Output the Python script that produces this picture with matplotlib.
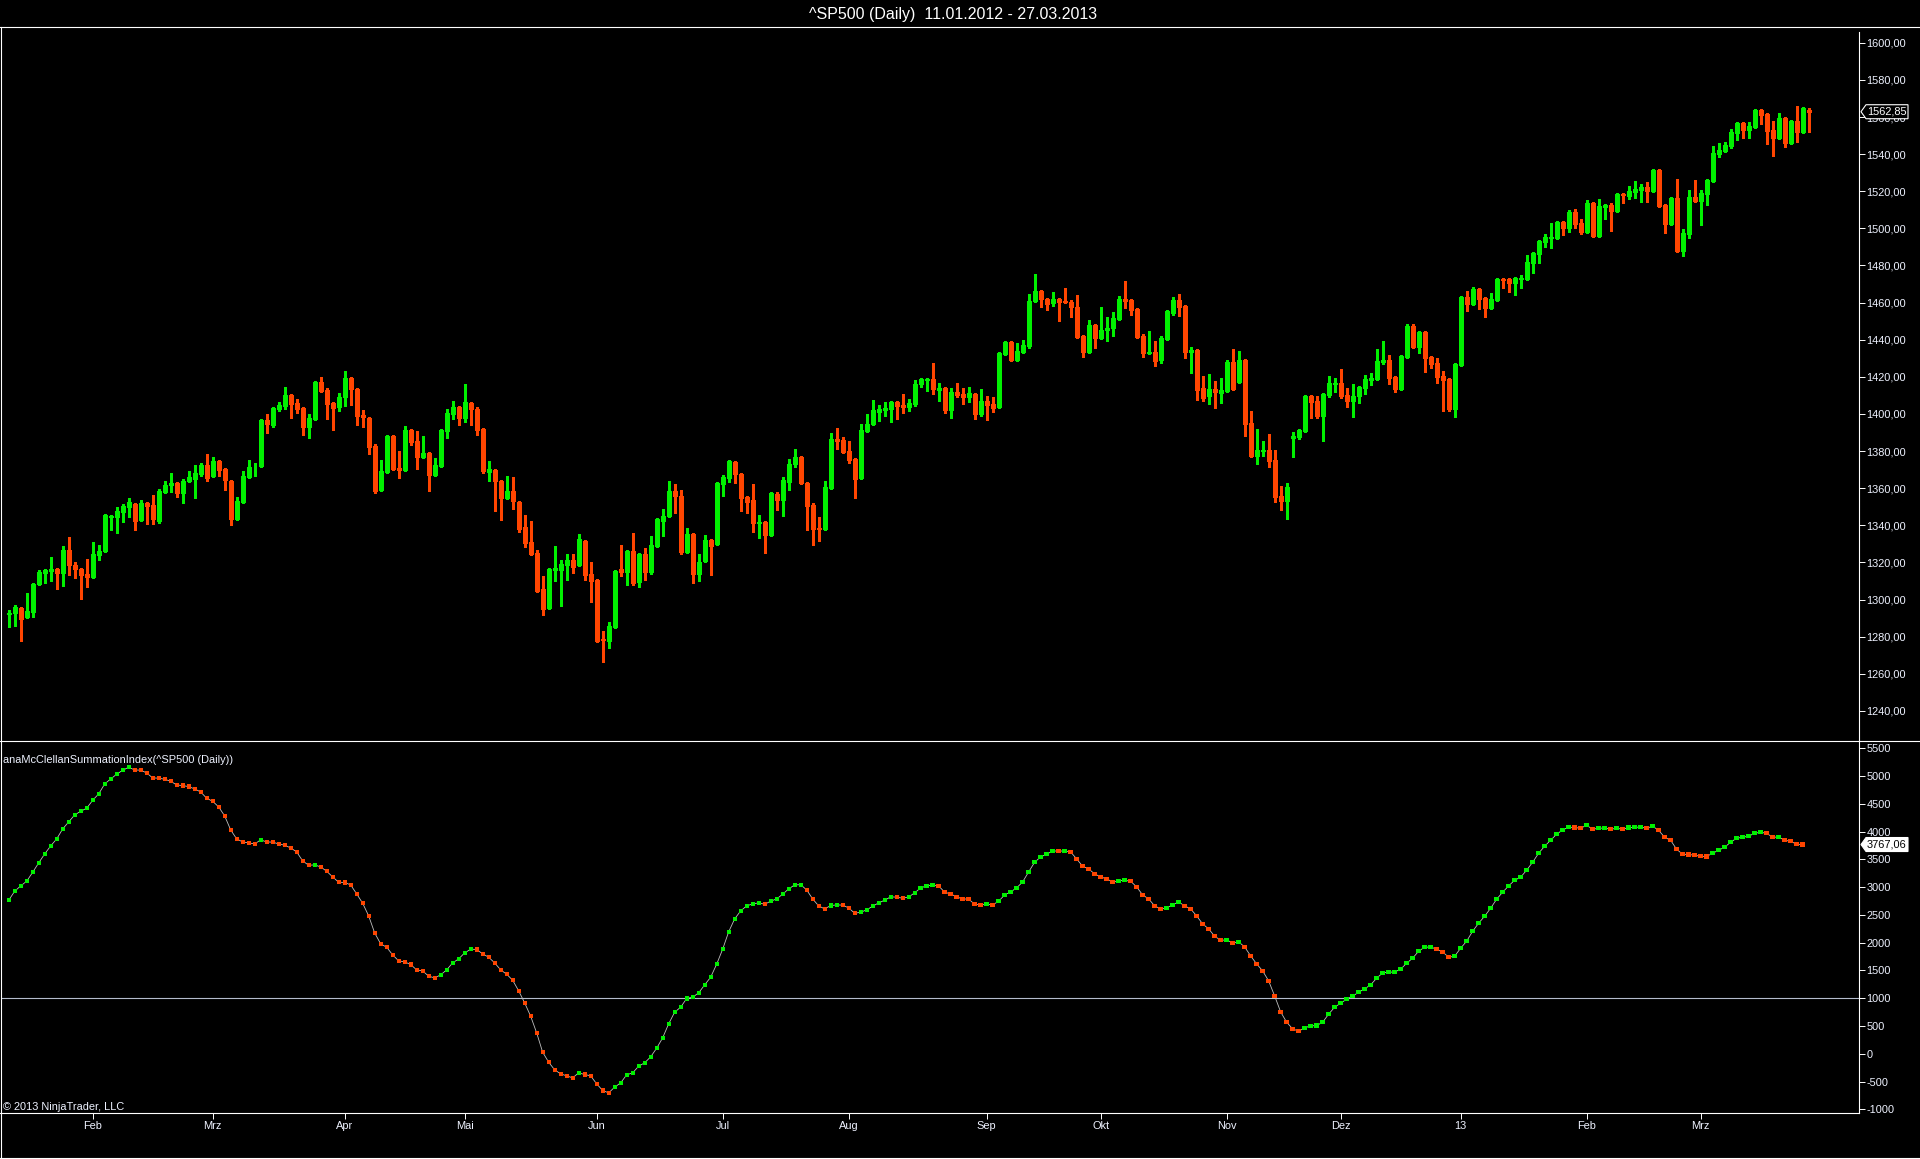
import numpy as np
import matplotlib
matplotlib.use("Agg")
from matplotlib import pyplot as plt
from matplotlib.lines import Line2D
from matplotlib.patches import Polygon
from matplotlib.transforms import IdentityTransform
from matplotlib.ticker import FuncFormatter

plt.rcParams['font.family'] = ['Liberation Sans', 'DejaVu Sans']

# daily bars 11.01.2012 - 27.03.2013
opens = [
    1292.1, 1292.6, 1295.3, 1290.4, 1293.5, 1308.2, 1314.5, 1315.6, 1316.3, 1314.5,
    1326.5, 1318.5, 1316.3, 1313.6, 1312.4, 1324.2, 1326.4, 1344.6, 1344.7, 1347.4,
    1350.1, 1351.5, 1343.1, 1351.9, 1350.8, 1342.4, 1358.0, 1361.6, 1362.8, 1357.6,
    1363.7, 1365.2, 1367.9, 1372.5, 1366.4, 1374.9, 1370.4, 1363.9, 1343.6, 1352.8,
    1366.2, 1371.3, 1372.2, 1396.8, 1394.3, 1402.9, 1404.5, 1410.2, 1405.7, 1403.1,
    1393.2, 1397.5, 1417.1, 1412.9, 1405.7, 1403.6, 1409.0, 1419.2, 1413.5, 1399.5,
    1397.7, 1382.8, 1359.2, 1368.9, 1388.0, 1370.7, 1369.8, 1391.2, 1385.5, 1377.0,
    1379.0, 1367.1, 1372.2, 1391.0, 1400.2, 1403.8, 1398.0, 1405.7, 1402.7, 1391.9,
    1368.9, 1369.7, 1363.9, 1354.9, 1358.5, 1352.6, 1339.1, 1331.0, 1325.1, 1305.7,
    1295.5, 1316.0, 1316.0, 1318.6, 1321.3, 1318.6, 1331.6, 1313.8, 1310.6, 1278.8,
    1277.7, 1285.2, 1316.5, 1314.9, 1326.2, 1309.7, 1324.6, 1314.9, 1328.9, 1342.4,
    1345.0, 1358.5, 1355.8, 1325.7, 1335.4, 1313.8, 1320.8, 1332.1, 1330.0, 1362.3,
    1365.5, 1374.1, 1367.6, 1355.1, 1353.5, 1341.4, 1341.6, 1334.9, 1356.9, 1353.8,
    1363.5, 1373.2, 1376.8, 1362.8, 1351.1, 1338.5, 1338.2, 1360.3, 1386.5, 1386.0,
    1380.0, 1375.7, 1365.7, 1391.0, 1394.6, 1401.2, 1402.3, 1402.8, 1406.4, 1404.8,
    1403.9, 1405.5, 1416.3, 1418.1, 1418.8, 1413.1, 1414.0, 1402.3, 1411.8, 1410.8,
    1409.3, 1410.8, 1400.2, 1407.0, 1405.4, 1403.9, 1432.3, 1438.8, 1429.3, 1433.4,
    1436.8, 1460.7, 1466.2, 1461.9, 1459.9, 1461.9, 1460.9, 1460.3, 1457.6, 1442.0,
    1433.6, 1447.9, 1441.1, 1445.4, 1446.5, 1451.3, 1461.9, 1461.2, 1456.4, 1442.0,
    1433.0, 1433.2, 1429.3, 1440.6, 1454.6, 1461.4, 1458.2, 1433.6, 1434.5, 1414.0,
    1409.8, 1413.4, 1411.5, 1412.5, 1428.0, 1417.4, 1429.1, 1395.1, 1377.5, 1380.2,
    1380.6, 1375.2, 1355.8, 1353.3, 1387.2, 1387.8, 1391.0, 1409.7, 1407.0, 1399.1,
    1410.4, 1416.3, 1416.7, 1410.2, 1407.1, 1409.8, 1414.2, 1418.5, 1419.0, 1428.2,
    1429.1, 1419.9, 1413.6, 1430.9, 1447.4, 1436.3, 1444.2, 1430.7, 1427.5, 1420.4,
    1418.8, 1402.8, 1426.6, 1463.0, 1459.4, 1467.3, 1462.3, 1457.3, 1461.4, 1472.9,
    1472.5, 1470.7, 1472.9, 1472.9, 1481.5, 1486.3, 1492.6, 1495.0, 1495.0, 1503.4,
    1500.2, 1508.6, 1502.9, 1498.0, 1513.6, 1496.0, 1511.7, 1512.6, 1509.3, 1518.5,
    1517.4, 1519.7, 1520.8, 1522.3, 1520.3, 1531.4, 1512.5, 1502.3, 1516.3, 1487.9,
    1497.1, 1516.9, 1514.7, 1518.7, 1525.7, 1540.2, 1541.8, 1544.5, 1551.5, 1556.7,
    1553.0, 1554.8, 1563.7, 1561.6, 1553.0, 1548.9, 1559.3, 1546.2, 1557.8, 1552.1,
    1563.8,
]
highs = [
    1294.4, 1297.1, 1295.3, 1303.4, 1308.2, 1315.9, 1315.8, 1323.0, 1316.3, 1328.9,
    1333.7, 1320.3, 1316.3, 1321.9, 1331.0, 1329.4, 1345.6, 1345.2, 1349.9, 1351.5,
    1354.7, 1351.5, 1353.7, 1351.9, 1356.4, 1359.6, 1363.9, 1368.2, 1363.4, 1365.0,
    1369.3, 1372.5, 1373.6, 1378.5, 1376.8, 1375.2, 1370.4, 1363.9, 1355.3, 1369.3,
    1375.2, 1373.6, 1396.8, 1400.0, 1403.1, 1406.5, 1414.6, 1410.2, 1407.9, 1403.1,
    1400.0, 1417.1, 1419.9, 1413.8, 1405.7, 1411.1, 1423.2, 1419.2, 1413.5, 1402.2,
    1397.7, 1383.8, 1375.2, 1388.7, 1388.0, 1380.1, 1393.5, 1391.2, 1390.8, 1388.2,
    1379.0, 1376.3, 1391.9, 1402.5, 1407.0, 1403.8, 1416.2, 1405.7, 1403.8, 1391.9,
    1374.7, 1369.7, 1364.4, 1366.6, 1366.1, 1352.6, 1345.6, 1342.4, 1326.7, 1312.7,
    1317.0, 1328.9, 1321.3, 1324.6, 1324.6, 1335.4, 1331.6, 1320.3, 1310.6, 1283.1,
    1287.9, 1315.4, 1329.4, 1326.2, 1335.9, 1324.6, 1327.8, 1334.3, 1344.0, 1348.8,
    1363.9, 1362.3, 1359.1, 1338.6, 1335.4, 1324.6, 1334.8, 1332.1, 1362.8, 1367.1,
    1375.2, 1374.1, 1367.6, 1355.1, 1362.2, 1345.6, 1341.6, 1357.9, 1357.9, 1366.0,
    1375.7, 1381.1, 1376.8, 1362.8, 1352.0, 1344.5, 1363.9, 1389.7, 1392.4, 1387.6,
    1385.4, 1375.7, 1394.6, 1400.0, 1407.5, 1404.8, 1406.4, 1406.4, 1406.4, 1410.7,
    1408.1, 1418.3, 1419.4, 1418.8, 1427.4, 1416.7, 1414.0, 1414.0, 1416.7, 1414.0,
    1414.5, 1410.8, 1413.4, 1409.7, 1409.1, 1432.8, 1438.8, 1439.3, 1438.2, 1439.8,
    1464.6, 1475.4, 1466.2, 1461.9, 1465.7, 1461.9, 1467.9, 1461.4, 1464.1, 1442.0,
    1450.6, 1447.9, 1457.6, 1452.2, 1454.9, 1463.4, 1471.6, 1461.2, 1456.4, 1443.1,
    1444.7, 1439.3, 1442.0, 1456.0, 1463.0, 1464.6, 1458.2, 1436.1, 1434.5, 1420.4,
    1421.5, 1417.8, 1419.4, 1429.1, 1435.0, 1433.9, 1429.1, 1401.8, 1392.1, 1385.6,
    1389.4, 1380.6, 1361.4, 1363.0, 1390.5, 1392.1, 1409.7, 1409.7, 1409.7, 1410.8,
    1420.4, 1419.4, 1424.2, 1414.0, 1416.1, 1414.5, 1421.0, 1422.1, 1435.0, 1439.3,
    1431.8, 1419.9, 1431.2, 1448.5, 1448.5, 1444.2, 1444.2, 1430.7, 1430.1, 1423.1,
    1418.8, 1427.4, 1463.0, 1466.2, 1468.4, 1467.3, 1462.3, 1465.1, 1472.7, 1473.2,
    1472.5, 1473.9, 1474.7, 1485.6, 1486.5, 1493.0, 1496.9, 1502.9, 1503.9, 1503.9,
    1509.9, 1510.4, 1505.0, 1515.2, 1513.6, 1515.8, 1513.1, 1513.6, 1519.0, 1519.0,
    1522.8, 1525.5, 1523.9, 1525.0, 1531.4, 1531.4, 1512.5, 1516.3, 1526.6, 1499.6,
    1520.6, 1526.0, 1520.6, 1526.0, 1544.3, 1546.0, 1546.5, 1553.5, 1557.3, 1557.3,
    1557.3, 1564.3, 1564.3, 1561.6, 1557.8, 1562.1, 1559.3, 1558.4, 1565.9, 1564.8,
    1564.8,
]
lows = [
    1285.4, 1286.0, 1277.9, 1290.4, 1290.8, 1308.2, 1309.1, 1310.2, 1305.9, 1307.3,
    1313.3, 1311.8, 1300.5, 1307.0, 1312.4, 1321.3, 1326.4, 1337.7, 1336.1, 1342.0,
    1344.7, 1337.7, 1343.1, 1340.9, 1340.9, 1341.5, 1357.6, 1358.2, 1355.5, 1352.2,
    1363.7, 1354.9, 1366.4, 1364.1, 1366.4, 1366.8, 1359.2, 1340.4, 1343.6, 1352.8,
    1366.2, 1366.8, 1372.2, 1390.0, 1393.2, 1401.8, 1402.9, 1398.0, 1400.7, 1388.9,
    1387.2, 1397.5, 1412.0, 1397.5, 1391.6, 1401.8, 1404.5, 1405.0, 1394.3, 1393.2,
    1378.6, 1357.6, 1359.2, 1368.9, 1370.0, 1365.7, 1369.8, 1383.3, 1370.4, 1377.0,
    1358.5, 1366.6, 1372.2, 1387.1, 1397.3, 1394.1, 1395.7, 1394.1, 1388.7, 1368.2,
    1363.9, 1347.7, 1342.9, 1354.9, 1348.8, 1336.4, 1328.3, 1324.6, 1304.6, 1291.7,
    1295.5, 1310.0, 1296.6, 1310.6, 1314.3, 1318.6, 1310.6, 1298.7, 1277.2, 1266.4,
    1273.9, 1285.2, 1312.7, 1307.9, 1307.9, 1306.8, 1310.6, 1313.8, 1328.9, 1334.3,
    1345.0, 1346.7, 1324.6, 1325.7, 1309.0, 1310.0, 1320.8, 1313.3, 1330.0, 1355.8,
    1363.4, 1362.8, 1347.9, 1346.8, 1336.6, 1333.3, 1325.2, 1334.9, 1348.4, 1345.2,
    1359.2, 1371.4, 1362.2, 1337.6, 1329.6, 1331.5, 1338.2, 1360.3, 1381.3, 1379.2,
    1373.8, 1354.9, 1365.7, 1391.0, 1394.6, 1396.4, 1399.1, 1395.8, 1397.5, 1400.7,
    1401.8, 1404.5, 1414.7, 1412.5, 1410.9, 1407.1, 1400.7, 1398.0, 1409.3, 1405.5,
    1406.6, 1397.5, 1399.1, 1396.9, 1401.2, 1403.9, 1431.8, 1429.3, 1429.3, 1432.8,
    1435.7, 1460.7, 1457.8, 1456.2, 1458.3, 1450.3, 1460.0, 1452.4, 1441.6, 1430.9,
    1433.6, 1435.7, 1441.1, 1439.5, 1442.2, 1451.3, 1457.3, 1453.5, 1441.6, 1430.9,
    1433.0, 1426.0, 1427.6, 1440.6, 1453.5, 1453.0, 1430.3, 1422.2, 1407.7, 1407.1,
    1405.5, 1403.4, 1406.1, 1412.5, 1413.1, 1417.4, 1388.3, 1377.5, 1373.2, 1377.5,
    1371.6, 1352.7, 1348.4, 1343.6, 1377.0, 1386.7, 1391.0, 1398.0, 1398.0, 1385.6,
    1409.3, 1411.8, 1408.8, 1403.9, 1398.5, 1406.1, 1410.9, 1415.6, 1419.0, 1427.1,
    1416.3, 1412.0, 1413.6, 1430.9, 1436.3, 1433.0, 1422.8, 1424.9, 1416.9, 1401.8,
    1401.8, 1398.5, 1426.6, 1455.6, 1459.4, 1456.7, 1452.0, 1457.3, 1461.4, 1467.8,
    1465.7, 1464.1, 1467.8, 1472.9, 1475.9, 1481.3, 1489.9, 1489.4, 1495.0, 1496.5,
    1498.2, 1500.3, 1497.1, 1498.0, 1495.5, 1496.0, 1505.0, 1498.7, 1509.3, 1513.6,
    1515.8, 1516.3, 1514.4, 1514.4, 1520.3, 1512.0, 1497.5, 1502.3, 1487.9, 1485.3,
    1495.0, 1514.7, 1502.0, 1512.7, 1525.7, 1538.6, 1541.8, 1543.5, 1547.8, 1548.9,
    1548.9, 1554.8, 1556.4, 1545.6, 1539.1, 1548.9, 1544.0, 1546.2, 1546.7, 1552.1,
    1552.1,
]
closes = [
    1293.0, 1295.8, 1289.4, 1293.7, 1308.2, 1314.9, 1315.8, 1316.3, 1314.5, 1326.7,
    1318.5, 1316.7, 1313.1, 1312.4, 1324.6, 1326.0, 1345.6, 1345.0, 1347.6, 1350.4,
    1352.4, 1342.5, 1351.9, 1350.6, 1343.6, 1358.3, 1361.6, 1362.6, 1357.6, 1363.9,
    1366.1, 1368.0, 1372.3, 1365.7, 1374.5, 1370.0, 1364.6, 1343.6, 1353.1, 1366.6,
    1371.4, 1371.6, 1396.8, 1394.4, 1403.1, 1404.7, 1410.2, 1405.6, 1402.9, 1393.2,
    1397.7, 1417.1, 1412.4, 1405.6, 1403.4, 1409.0, 1419.4, 1413.7, 1399.1, 1398.6,
    1382.4, 1358.5, 1369.1, 1388.2, 1370.4, 1370.0, 1391.4, 1385.1, 1377.0, 1378.8,
    1367.1, 1372.3, 1391.4, 1400.4, 1403.8, 1398.0, 1406.5, 1402.5, 1391.4, 1369.3,
    1370.4, 1364.1, 1354.9, 1358.5, 1353.3, 1338.0, 1330.5, 1324.6, 1304.6, 1294.9,
    1316.5, 1317.0, 1319.2, 1321.3, 1317.6, 1332.7, 1313.3, 1310.0, 1277.7, 1278.2,
    1285.8, 1315.4, 1314.9, 1326.2, 1309.1, 1324.6, 1314.9, 1329.4, 1343.4, 1345.0,
    1358.5, 1355.8, 1325.7, 1335.4, 1313.8, 1320.3, 1332.1, 1328.9, 1362.8, 1366.2,
    1374.7, 1367.7, 1354.9, 1352.7, 1341.4, 1341.8, 1334.9, 1357.4, 1353.8, 1364.4,
    1373.0, 1376.8, 1362.8, 1350.6, 1338.2, 1338.0, 1360.6, 1386.5, 1385.6, 1379.5,
    1375.4, 1365.1, 1391.3, 1394.6, 1402.1, 1402.7, 1403.2, 1406.4, 1404.4, 1403.9,
    1405.9, 1416.1, 1418.8, 1418.8, 1413.6, 1414.0, 1402.3, 1411.8, 1410.4, 1409.3,
    1411.3, 1399.8, 1407.0, 1405.0, 1403.4, 1432.8, 1438.8, 1429.3, 1433.9, 1437.2,
    1460.8, 1466.2, 1461.8, 1459.4, 1461.9, 1460.5, 1460.3, 1457.4, 1441.6, 1433.6,
    1447.9, 1441.1, 1445.2, 1446.3, 1451.5, 1461.8, 1461.0, 1456.2, 1441.6, 1433.0,
    1433.4, 1428.7, 1440.9, 1455.5, 1461.4, 1457.8, 1433.4, 1434.5, 1412.9, 1408.8,
    1413.4, 1412.0, 1412.9, 1428.0, 1413.6, 1429.1, 1394.8, 1377.5, 1380.6, 1380.7,
    1374.8, 1355.4, 1353.3, 1360.6, 1387.9, 1391.5, 1409.7, 1406.6, 1399.1, 1410.8,
    1416.7, 1416.9, 1409.8, 1407.1, 1409.7, 1414.5, 1418.8, 1419.4, 1428.5, 1429.1,
    1419.5, 1413.6, 1431.2, 1447.4, 1436.3, 1444.2, 1430.3, 1427.1, 1420.1, 1418.5,
    1402.8, 1426.9, 1463.0, 1459.4, 1467.3, 1462.1, 1456.9, 1461.7, 1472.7, 1472.3,
    1470.7, 1473.2, 1473.2, 1481.7, 1486.5, 1493.0, 1495.3, 1495.3, 1503.4, 1500.3,
    1508.8, 1502.5, 1498.0, 1513.6, 1496.0, 1512.0, 1512.6, 1509.5, 1518.5, 1517.8,
    1519.9, 1521.2, 1522.3, 1520.3, 1531.4, 1512.0, 1502.3, 1516.3, 1487.9, 1497.5,
    1516.9, 1514.7, 1519.0, 1526.0, 1540.6, 1542.2, 1544.9, 1551.9, 1556.7, 1553.0,
    1555.1, 1563.7, 1561.0, 1552.4, 1548.9, 1559.4, 1546.2, 1557.8, 1552.1, 1564.8,
    1562.85,
]

# McClellan summation index (one point less than the price bars)
summation = [
    2764, 2926, 3022, 3106, 3268, 3436, 3598, 3742, 3868, 4048,
    4174, 4300, 4366, 4420, 4564, 4678, 4858, 4948, 5032, 5104,
    5158, 5110, 5106, 5056, 4966, 4962, 4942, 4906, 4840, 4828,
    4810, 4768, 4714, 4600, 4546, 4444, 4282, 4030, 3868, 3814,
    3796, 3778, 3850, 3814, 3810, 3778, 3754, 3706, 3634, 3472,
    3394, 3400, 3364, 3286, 3184, 3088, 3084, 3040, 2878, 2710,
    2482, 2176, 1978, 1918, 1780, 1672, 1654, 1606, 1510, 1492,
    1396, 1366, 1420, 1510, 1636, 1708, 1816, 1882, 1878, 1798,
    1738, 1636, 1510, 1432, 1324, 1132, 916, 676, 376, 28,
    -152, -290, -362, -398, -434, -344, -374, -398, -542, -662,
    -704, -602, -524, -380, -344, -224, -164, -56, 100, 286,
    538, 748, 838, 994, 1018, 1096, 1240, 1378, 1612, 1882,
    2194, 2428, 2572, 2662, 2698, 2716, 2692, 2746, 2788, 2872,
    2968, 3040, 3044, 2950, 2788, 2662, 2608, 2668, 2680, 2676,
    2626, 2530, 2548, 2590, 2656, 2716, 2764, 2824, 2820, 2800,
    2824, 2896, 2986, 3022, 3040, 3022, 2908, 2878, 2824, 2788,
    2784, 2692, 2680, 2692, 2680, 2746, 2860, 2914, 2986, 3094,
    3274, 3448, 3544, 3592, 3652, 3648, 3652, 3634, 3508, 3376,
    3328, 3238, 3184, 3148, 3094, 3112, 3124, 3106, 3004, 2860,
    2788, 2662, 2608, 2626, 2680, 2734, 2662, 2608, 2482, 2338,
    2248, 2116, 2044, 2048, 1996, 2014, 1924, 1762, 1618, 1492,
    1312, 1042, 754, 568, 448, 406, 466, 502, 506, 568,
    712, 838, 910, 982, 1036, 1108, 1168, 1240, 1360, 1456,
    1468, 1472, 1522, 1630, 1720, 1846, 1918, 1922, 1882, 1834,
    1738, 1756, 1900, 2026, 2206, 2350, 2476, 2620, 2782, 2908,
    3022, 3124, 3178, 3304, 3448, 3610, 3736, 3844, 3952, 4030,
    4078, 4074, 4060, 4114, 4042, 4060, 4064, 4042, 4060, 4042,
    4072, 4078, 4082, 4060, 4096, 4024, 3898, 3844, 3682, 3592,
    3588, 3574, 3556, 3552, 3610, 3664, 3718, 3808, 3880, 3898,
    3916, 3970, 3988, 3970, 3898, 3902, 3844, 3826, 3772, 3767.06,
]

month_bars = [14, 34, 56, 76, 98, 119, 140, 163, 182, 203, 222, 242, 263, 282]
month_labels = ['Feb', 'Mrz', 'Apr', 'Mai', 'Jun', 'Jul', 'Aug', 'Sep', 'Okt',
                'Nov', 'Dez', '13', 'Feb', 'Mrz']

title = '^SP500 (Daily)  11.01.2012 - 27.03.2013'
indicator_name = 'anaMcClellanSummationIndex(^SP500 (Daily))'
last_price = 1562.85
last_index = 3767.06

UP = '#00f000'
DOWN = '#ff4500'
TXT = '#eef2ff'
FS = 7.9

W, H = 1920, 1159


def fx(px):
    return px / W


def fy(py):
    return 1 - py / H


fig = plt.figure(figsize=(W / 100, H / 100), dpi=100, facecolor='black')

ax1 = fig.add_axes([fx(1), fy(741), fx(1859) - fx(1), fy(27) - fy(741)])
ax2 = fig.add_axes([fx(1), fy(1113), fx(1859) - fx(1), fy(741) - fy(1113)])
for ax in (ax1, ax2):
    ax.set_facecolor('black')
    for s in ax.spines.values():
        s.set_visible(False)
    ax.set_xlim(-1.28, 308.4)
    ax.yaxis.tick_right()
    ax.tick_params(axis='y', direction='out', length=4.3, width=0.7,
                   color='white', labelcolor=TXT, labelsize=FS, pad=1.2)

# candles
o = np.array(opens)
h = np.array(highs)
l = np.array(lows)
c = np.array(closes)
x = np.arange(len(c))
cols = np.where(c >= o, UP, DOWN)
ax1.vlines(x, l, h, colors=cols, linewidth=0.75, zorder=2, antialiased=False)
ax1.bar(x, np.abs(c - o), bottom=np.minimum(o, c), width=0.36,
        color='black', edgecolor=cols, linewidth=0.75, zorder=3,
        antialiased=False)
ax1.set_ylim(1223.8, 1608.5)
ax1.set_yticks(np.arange(1240, 1601, 20))
ax1.yaxis.set_major_formatter(FuncFormatter(lambda v, p: f'{v:.2f}'.replace('.', ',')))
ax1.tick_params(axis='x', bottom=False, labelbottom=False)

# summation index
si = np.array(summation)
xs = np.arange(len(si))
si_cols = [UP] + [UP if si[i] > si[i - 1] else DOWN for i in range(1, len(si))]
ax2.axhline(1000, color='#b4bccc', linewidth=0.8, zorder=1)
ax2.plot(xs, si, color='#bdbdbd', linewidth=0.6, zorder=2)
ax2.scatter(xs, si, marker='s', s=9.5, c=si_cols, linewidths=0, zorder=3)
ax2.set_ylim(-1067, 5631)
ax2.set_yticks(np.arange(-1000, 5501, 500))
ax2.yaxis.set_major_formatter(FuncFormatter(lambda v, p: f'{v:.0f}'))
ax2.set_xticks(month_bars)
ax2.set_xticklabels(month_labels)
ax2.tick_params(axis='x', direction='out', length=4.3, width=0.7,
                color='white', labelcolor=TXT, labelsize=FS, pad=1.2)

# frame lines
def hline(py, x0, x1):
    fig.add_artist(Line2D([fx(x0), fx(x1)], [fy(py), fy(py)], color='white',
                          linewidth=0.8, transform=fig.transFigure))


def vline(px, y0, y1):
    fig.add_artist(Line2D([fx(px), fx(px)], [fy(y0), fy(y1)], color='white',
                          linewidth=0.8, transform=fig.transFigure))


hline(27, 0, 1920)
hline(741, 0, 1920)
hline(1113, 0, 1859)
hline(1158, 0, 1920)
vline(1, 27, 1158)
vline(1859, 32, 1113)

# texts
fig.text(fx(953), fy(19.5), title, color='white', fontsize=11.5,
         ha='center', va='baseline')
fig.text(fx(3), fy(763), indicator_name, color=TXT, fontsize=FS, va='baseline')
fig.text(fx(3), fy(1110.5), '\u00a9 2013 NinjaTrader, LLC', color=TXT,
         fontsize=FS, va='baseline')


# last value tags
def tag(ax, val, txt, face, edge, tcol):
    yd = ax.transData.transform((0, val))[1]
    x0 = 1861
    verts = [(x0, yd), (x0 + 5, yd + 7), (x0 + 47, yd + 7),
             (x0 + 47, yd - 7), (x0 + 5, yd - 7)]
    fig.add_artist(Polygon(verts, closed=True, facecolor=face, edgecolor=edge,
                           linewidth=0.8, transform=IdentityTransform()))
    fig.text(x0 + 6, yd, txt, color=tcol, fontsize=FS, va='center',
             ha='left', transform=IdentityTransform())


tag(ax1, last_price, f'{last_price:.2f}'.replace('.', ','), 'black', 'white', 'white')
tag(ax2, last_index, f'{last_index:.2f}'.replace('.', ','), 'white', 'white', 'black')

fig.savefig('out.png', dpi=100, facecolor='black')
